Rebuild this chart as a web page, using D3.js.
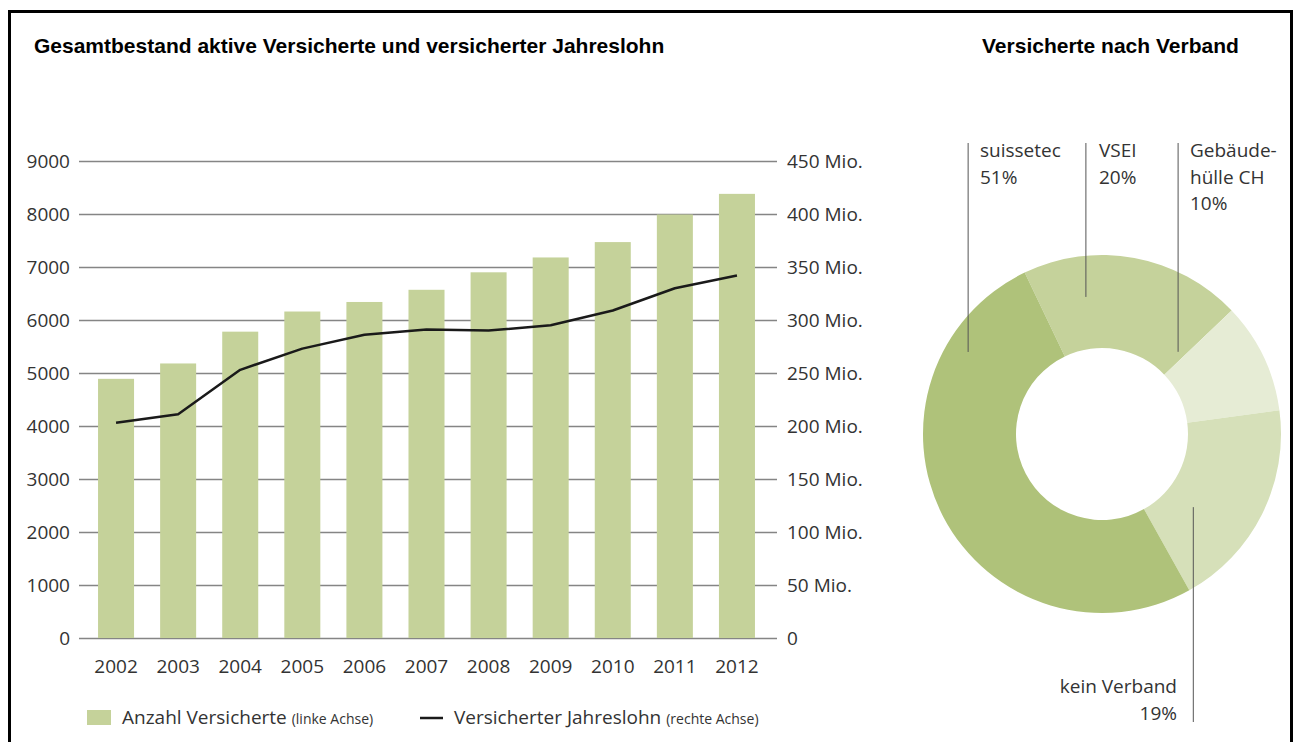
<!DOCTYPE html>
<html>
<head>
<meta charset="utf-8">
<script src="https://cdn.jsdelivr.net/npm/d3@7"></script>
<style>
  body { margin: 0; background: #fff; }
  text { font-family: "Open Sans", sans-serif; fill: #333; }
  .title { font-family: "Liberation Sans", Arial, sans-serif; font-weight: bold; fill: #000; font-size: 21px; }
</style>
</head>
<body>
<svg width="1300" height="742"></svg>
<script>
// **** data ****
var years = [2002, 2003, 2004, 2005, 2006, 2007, 2008, 2009, 2010, 2011, 2012];
var versicherte = [4890, 5180, 5780, 6160, 6340, 6570, 6900, 7180, 7470, 7990, 8380];
var jahreslohn = [203, 211, 253, 273, 286, 291, 290, 295, 309, 330, 342]; // Mio.
var leftTicks = [0, 1000, 2000, 3000, 4000, 5000, 6000, 7000, 8000, 9000];
var rightTicks = [0, 50, 100, 150, 200, 250, 300, 350, 400, 450];

var verbandNames = ["VSEI", "Gebäudehülle CH", "kein Verband", "suissetec"];
var verbandShares = [20, 10, 19, 51];
var verbandLabels = [["VSEI", "20%"], ["Gebäude-", "hülle CH", "10%"], ["kein Verband", "19%"], ["suissetec", "51%"]];

// **** scales, axes ****
var svg = d3.select('svg');
var barColor = '#c5d29a';
var gridColor = '#858585';

svg.append('path')
    .attr('d', 'M9.5,745 V11.5 H1291.5 V745')
    .attr('fill', 'none').attr('stroke', '#000').attr('stroke-width', 3);

svg.append('text').attr('class', 'title')
    .attr('x', 34).attr('y', 53)
    .text('Gesamtbestand aktive Versicherte und versicherter Jahreslohn');
svg.append('text').attr('class', 'title')
    .attr('x', 982).attr('y', 53)
    .text('Versicherte nach Verband');

var xScale = d3.scaleBand().domain(years).range([85, 768])
    .paddingInner(0.42).paddingOuter(0.21);
var yLeft = d3.scaleLinear().domain([0, 9000]).range([638, 161]);
var yRight = d3.scaleLinear().domain([0, 450]).range([638, 161]);

var gridLeft = 79, gridRight = 777;

var gLeft = svg.append('g').attr('class', 'y axis')
    .attr('transform', 'translate(' + gridLeft + ',0)')
    .call(d3.axisLeft(yLeft).tickValues(leftTicks)
        .tickSize(-(gridRight - gridLeft)).tickPadding(9).tickFormat(d3.format('d')));
gLeft.select('.domain').remove();
gLeft.selectAll('line').attr('stroke', gridColor).attr('stroke-width', 1.5);
gLeft.selectAll('text').style('font-size', '19px').attr('fill', '#333');

var gRight = svg.append('g').attr('class', 'y axis')
    .attr('transform', 'translate(' + gridRight + ',0)')
    .call(d3.axisRight(yRight).tickValues(rightTicks).tickSize(0).tickPadding(10)
        .tickFormat(function(d){ return d === 0 ? '0' : d + ' Mio.'; }));
gRight.select('.domain').remove();
gRight.selectAll('text').style('font-size', '19px').attr('fill', '#333');

var gX = svg.append('g').attr('class', 'x axis')
    .attr('transform', 'translate(0,638)')
    .call(d3.axisBottom(xScale).tickSize(0).tickPadding(22));
gX.select('.domain').remove();
gX.selectAll('text').style('font-size', '19px').attr('fill', '#333');

// bars
svg.append('g').selectAll('rect')
    .data(years)
    .join('rect')
    .attr('x', function(d){ return xScale(d); })
    .attr('width', xScale.bandwidth())
    .attr('y', function(d, i){ return yLeft(versicherte[i]); })
    .attr('height', function(d, i){ return yLeft(0) - yLeft(versicherte[i]); })
    .attr('fill', barColor);

// line
var line = d3.line()
    .x(function(d, i){ return xScale(years[i]) + xScale.bandwidth() / 2; })
    .y(function(d){ return yRight(d); });
svg.append('path')
    .attr('d', line(jahreslohn))
    .attr('fill', 'none').attr('stroke', '#1a1a1a').attr('stroke-width', 2.5)
    .attr('stroke-linejoin', 'round');

// legend
var legend = svg.append('g');
legend.append('rect').attr('x', 87).attr('y', 710).attr('width', 24).attr('height', 15).attr('fill', barColor);
var t1 = legend.append('text').attr('x', 122).attr('y', 724).style('font-size', '19px');
t1.append('tspan').text('Anzahl Versicherte ');
t1.append('tspan').style('font-size', '14px').text('(linke Achse)');
legend.append('line').attr('x1', 420).attr('x2', 443).attr('y1', 718).attr('y2', 718)
    .attr('stroke', '#1a1a1a').attr('stroke-width', 2.5);
var t2 = legend.append('text').attr('x', 454).attr('y', 724).style('font-size', '19px');
t2.append('tspan').text('Versicherter Jahreslohn ');
t2.append('tspan').style('font-size', '14px').text('(rechte Achse)');

// **** donut ****
var cx = 1102, cy = 434;
var colorScale = d3.scaleOrdinal().domain(verbandNames)
    .range(['#c5d29b', '#e6ecd5', '#d6e0b9', '#afc27a']);
var startAngle = -25.6 * Math.PI / 180;
var pie = d3.pie().sort(null)
    .startAngle(startAngle).endAngle(startAngle + 2 * Math.PI);
var arc = d3.arc().innerRadius(86).outerRadius(179);
var donut = svg.append('g').attr('transform', 'translate(' + cx + ',' + cy + ')');
donut.selectAll('path')
    .data(pie(verbandShares))
    .join('path')
    .attr('d', arc)
    .attr('fill', function(d, i){ return colorScale(verbandNames[i]); });

// leader lines: end point inside slice (angle deg, radius), other end y, label placement
var leaders = [
    { a: -6.7, r: 138, y2: 143, tx: 1099, ty: 157, anchor: 'start' },
    { a: 42.8, r: 112, y2: 143, tx: 1190, ty: 157, anchor: 'start' },
    { a: 128.7, r: 117, y2: 722, tx: 1177, ty: 693, anchor: 'end' },
    { a: -58.5, r: 157, y2: 143, tx: 980, ty: 157, anchor: 'start' }
];
leaders.forEach(function(l, i){
    var p = d3.pointRadial(l.a * Math.PI / 180, l.r);
    svg.append('line')
        .attr('x1', cx + p[0]).attr('x2', cx + p[0])
        .attr('y1', cy + p[1]).attr('y2', l.y2)
        .attr('stroke', '#555').attr('stroke-width', 1);
    var txt = svg.append('text').attr('text-anchor', l.anchor).style('font-size', '19px');
    verbandLabels[i].forEach(function(s, j){
        txt.append('tspan').attr('x', l.tx).attr('y', l.ty + j * 26.5).text(s);
    });
});
</script>
</body>
</html>
